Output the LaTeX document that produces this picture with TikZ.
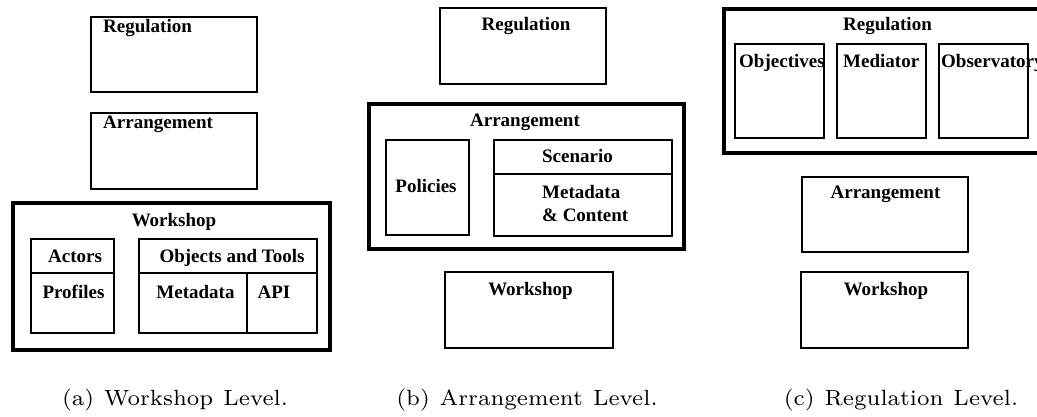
\documentclass[tikz,border=0pt]{standalone}
\usepackage{fontspec}
\newfontfamily\timesrm{Liberation Serif}
\newfontfamily\capfont{lmroman7-regular.otf}
\newcommand\capstyle{\fontsize{22}{26}\selectfont\capfont\spaceskip=10pt\relax}
\usepackage{tikz}
\usetikzlibrary{positioning}
\tikzstyle{box} = [draw, line width=2pt, inner sep=0pt]
\tikzstyle{level} = [draw, line width=4pt, inner sep=0pt]
\tikzstyle{lbl} = [font=\fontsize{19}{23}\selectfont\timesrm\bfseries,
    inner sep=0pt, anchor=base]
\tikzstyle{lbll} = [lbl, anchor=base west, align=left]
\tikzstyle{subcap} = [font=\capstyle, inner sep=0pt, anchor=base]

\begin{document}
\begin{tikzpicture}[x=1pt,y=-1pt]
\clip (0,0) rectangle (1037,417);
\begin{scope}
    %boxes
    \node[box, minimum width=166pt, minimum height=75pt] (a-reg) at (174,54.5) {};
    \node[box, minimum width=166pt, minimum height=76pt] (a-arr) at (174,151) {};
    \node[level, minimum width=317pt, minimum height=147pt] (a-ws) at (171.5,276.5) {};
    \node[box, minimum width=83pt, minimum height=34pt] (a-act) at (72.5,256) {};
    \node[box, minimum width=83pt, minimum height=60pt] (a-prof) at (72.5,303) {};
    \node[box, minimum width=178pt, minimum height=34pt] (a-obj) at (228,256) {};
    \node[box, minimum width=108pt, minimum height=60pt] (a-meta) at (193,303) {};
    \node[box, minimum width=70pt, minimum height=60pt] (a-api) at (282,303) {};
    %labels
    \node[lbll] (a-reg-t) at (103,33) {Regulation};
    \node[lbll] (a-arr-t) at (103,129) {Arrangement};
    \node[lbl] (a-ws-t) at (174,226) {Workshop};
    \node[lbl] (a-act-t) at (75,262) {Actors};
    \node[lbl] (a-prof-t) at (73.5,298) {Profiles};
    \node[lbl] (a-obj-t) at (232,262) {Objects and Tools};
    \node[lbl] (a-meta-t) at (195.5,298) {Metadata};
    \node[lbl] (a-api-t) at (274,298) {API};
    \node[subcap] (a-cap) at (175,405) {(a) Workshop Level.};
\end{scope}
\begin{scope}
    %boxes
    \node[box, minimum width=166pt, minimum height=76pt] (b-reg) at (523,46) {};
    \node[level, minimum width=315pt, minimum height=145pt] (b-arr) at (526.5,176.5) {};
    \node[box, minimum width=83pt, minimum height=95pt] (b-pol) at (427.5,187.5) {};
    \node[box, minimum width=178pt, minimum height=34pt] (b-scen) at (583,157) {};
    \node[box, minimum width=178pt, minimum height=61pt] (b-meta) at (583,205) {};
    \node[box, minimum width=168pt, minimum height=76pt] (b-ws) at (529,310) {};
    %labels
    \node[lbl] (b-reg-t) at (526,31) {Regulation};
    \node[lbl] (b-arr-t) at (525,127) {Arrangement};
    \node[lbl] (b-pol-t) at (426,193) {Policies};
    \node[lbl] (b-scen-t) at (577.5,163) {Scenario};
    \node[lbll] (b-meta-t) at (542,222) {Metadata\\\& Content};
    \node[lbl] (b-ws-t) at (530.5,295) {Workshop};
    \node[subcap] (b-cap) at (527,405) {(b) Arrangement Level.};
\end{scope}
\begin{scope}
    %labels
    \node[lbl] (c-reg-t) at (887.5,31) {Regulation};
    \node[lbll] (c-obj-t) at (739,68) {Objectives};
    \node[lbll] (c-med-t) at (843,68) {Mediator};
    \node[lbll] (c-obs-t) at (941,68) {Observatory};
    \node[lbl] (c-arr-t) at (885.5,199) {Arrangement};
    \node[lbl] (c-ws-t) at (886,295) {Workshop};
    \node[subcap] (c-cap) at (901,405) {(c) Regulation Level.};
    %boxes
    \node[level, minimum width=326pt, minimum height=144pt] (c-reg) at (887,81) {};
    \node[box, minimum width=89pt, minimum height=94pt] (c-obj) at (779.5,91) {};
    \node[box, minimum width=89pt, minimum height=94pt] (c-med) at (881.5,91) {};
    \node[box, minimum width=89pt, minimum height=94pt] (c-obs) at (983.5,91) {};
    \node[box, minimum width=166pt, minimum height=75pt] (c-arr) at (885,214.5) {};
    \node[box, minimum width=167pt, minimum height=76pt] (c-ws) at (884.5,310) {};
\end{scope}
\end{tikzpicture}
\end{document}
